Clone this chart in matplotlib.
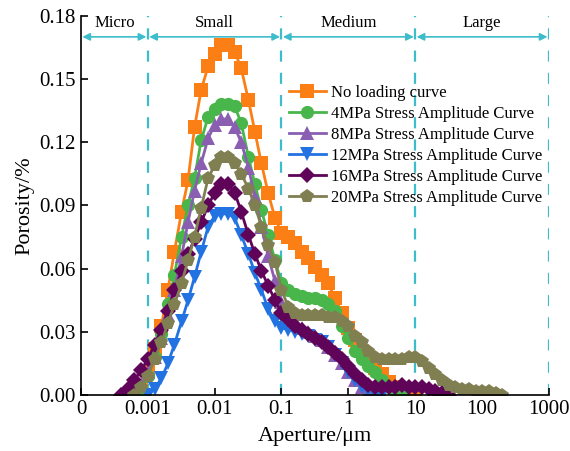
import numpy as np
import matplotlib.pyplot as plt
from matplotlib.ticker import FixedLocator, FixedFormatter

plt.rcParams['font.family'] = ['Liberation Serif', 'DejaVu Serif']
plt.rcParams['mathtext.fontset'] = 'stix'

### data ###

## aperture grid (um), roughly 0.1 decade apart
aperture_um = [0.0004, 0.0005, 0.00063, 0.0008, 0.001, 0.00126, 0.0016, 0.002, 0.0025, 0.0032,
               0.004, 0.005, 0.0063, 0.008, 0.01, 0.0126, 0.016, 0.02, 0.025, 0.032,
               0.04, 0.05, 0.063, 0.08, 0.1, 0.126, 0.16, 0.2, 0.25, 0.32,
               0.4, 0.5, 0.63, 0.8, 1, 1.26, 1.6, 2, 2.5, 3.2,
               4, 5, 6.3, 8, 10, 12.6, 16, 20, 25, 32,
               40, 50, 63, 80, 100, 126, 160, 200]

nan = np.nan
no_load = [nan, nan, 0.000, 0.004, 0.011, 0.022, 0.033, 0.050, 0.068, 0.087,
           0.102, 0.127, 0.145, 0.156, 0.162, 0.166, 0.166, 0.163, 0.155, 0.140,
           0.125, 0.110, 0.096, 0.084, 0.077, 0.075, 0.072, 0.068, 0.065, 0.061,
           0.057, 0.053, 0.046, 0.039, 0.032, 0.026, 0.021, 0.017, 0.013, 0.010,
           0.006, 0.004, 0.002, 0.001, 0.000, nan, nan, nan, nan, nan,
           nan, nan, nan, nan, nan, nan, nan, nan]
mpa4 = [nan, nan, 0.000, 0.003, 0.009, 0.018, 0.029, 0.043, 0.057, 0.075,
        0.090, 0.103, 0.121, 0.132, 0.136, 0.138, 0.138, 0.137, 0.129, 0.113,
        0.100, 0.088, 0.076, 0.064, 0.053, 0.050, 0.048, 0.047, 0.046, 0.046,
        0.045, 0.043, 0.040, 0.033, 0.027, 0.021, 0.017, 0.014, 0.011, 0.007,
        0.004, 0.002, 0.000, nan, nan, nan, nan, nan, nan, nan,
        nan, nan, nan, nan, nan, nan, nan, nan]
mpa8 = [nan, 0.000, 0.002, 0.005, 0.011, 0.018, 0.027, 0.038, 0.050, 0.066,
        0.082, 0.097, 0.110, 0.122, 0.128, 0.131, 0.131, 0.127, 0.120, 0.108,
        0.094, 0.080, 0.066, 0.054, 0.044, 0.038, 0.035, 0.032, 0.030, 0.028,
        0.026, 0.023, 0.019, 0.015, 0.011, 0.007, 0.004, 0.002, 0.001, 0.000,
        nan, nan, nan, nan, nan, nan, nan, nan, nan, nan,
        nan, nan, nan, nan, nan, nan, nan, nan]
mpa12 = [nan, nan, nan, nan, 0.000, 0.003, 0.008, 0.015, 0.024, 0.035,
         0.045, 0.056, 0.068, 0.080, 0.085, 0.086, 0.086, 0.084, 0.076, 0.067,
         0.058, 0.050, 0.041, 0.035, 0.032, 0.031, 0.030, 0.029, 0.028, 0.026,
         0.025, 0.023, 0.019, 0.015, 0.011, 0.007, 0.004, 0.002, 0.001, 0.000,
         nan, nan, nan, nan, nan, nan, nan, nan, nan, nan,
         nan, nan, nan, nan, nan, nan, nan, nan]
mpa16 = [0.000, 0.003, 0.007, 0.012, 0.017, 0.024, 0.031, 0.040, 0.050, 0.059,
         0.067, 0.074, 0.082, 0.090, 0.096, 0.100, 0.100, 0.096, 0.087, 0.076,
         0.067, 0.059, 0.052, 0.045, 0.039, 0.036, 0.033, 0.031, 0.029, 0.027,
         0.025, 0.023, 0.020, 0.017, 0.014, 0.010, 0.007, 0.005, 0.004, 0.004,
         0.004, 0.004, 0.005, 0.004, 0.004, 0.004, 0.003, 0.002, 0.001, 0.000,
         nan, nan, nan, nan, nan, nan, nan, nan]
mpa20 = [nan, nan, 0.000, 0.004, 0.009, 0.017, 0.025, 0.034, 0.043, 0.053,
         0.064, 0.075, 0.089, 0.103, 0.109, 0.113, 0.113, 0.110, 0.105, 0.098,
         0.090, 0.080, 0.071, 0.063, 0.050, 0.042, 0.039, 0.038, 0.038, 0.038,
         0.038, 0.037, 0.037, 0.035, 0.033, 0.028, 0.025, 0.021, 0.018, 0.017,
         0.017, 0.017, 0.017, 0.018, 0.018, 0.016, 0.013, 0.010, 0.007, 0.005,
         0.004, 0.003, 0.003, 0.002, 0.002, 0.002, 0.001, 0.000]

labels = ['No loading curve', '4MPa Stress Amplitude Curve', '8MPa Stress Amplitude Curve',
          '12MPa Stress Amplitude Curve', '16MPa Stress Amplitude Curve', '20MPa Stress Amplitude Curve']
series = [no_load, mpa4, mpa8, mpa12, mpa16, mpa20]
colors = ['#fb7f14', '#48b64a', '#8a5fb2', '#2272e2', '#5f0458', '#807f52']
markers = ['s', 'o', '^', 'v', 'D', 'p']
msizes = [9.5, 9.5, 10, 10, 8, 10]

## pore size classes (um)
class_names = ['Micro', 'Small', 'Medium', 'Large']
class_bounds = [0.0001, 0.001, 0.1, 10, 1000]

xtick_pos = [0.0001, 0.001, 0.01, 0.1, 1, 10, 100, 1000]
xtick_lab = ['0', '0.001', '0.01', '0.1', '1', '10', '100', '1000']

### plot ###
fig = plt.figure(figsize=(5.7, 4.51), dpi=100)
ax = fig.add_axes([0.142, 0.124, 0.821, 0.841])

x = np.array(aperture_um)
for ys, lab, c, m, ms in zip(series, labels, colors, markers, msizes):
    ax.plot(x, ys, color=c, marker=m, markersize=ms, markeredgewidth=0,
            linewidth=2, label=lab)

## class boundaries and arrows
for b in class_bounds[1:]:
    ax.axvline(b, color='#3dbccb', linestyle=(0, (5, 5)), linewidth=1.6, zorder=0)
for i, name in enumerate(class_names):
    lo, hi = class_bounds[i], class_bounds[i + 1]
    ax.annotate('', xy=(lo * 1.05, 0.170), xytext=(hi / 1.05, 0.170),
                arrowprops=dict(arrowstyle='<|-|>', color='#3dbccb', lw=1.2,
                                mutation_scale=11, shrinkA=0, shrinkB=0))
    ax.text(np.sqrt(lo * hi), 0.1765, name, ha='center', va='center', fontsize=12)

ax.set_xscale('log')
ax.set_xlim(0.0001, 1000)
ax.set_ylim(0, 0.18)
ax.xaxis.set_major_locator(FixedLocator(xtick_pos))
ax.xaxis.set_major_formatter(FixedFormatter(xtick_lab))
ax.xaxis.set_minor_locator(FixedLocator([]))
ax.set_yticks([0, 0.03, 0.06, 0.09, 0.12, 0.15, 0.18])
ax.set_yticklabels(['0.00', '0.03', '0.06', '0.09', '0.12', '0.15', '0.18'])
ax.tick_params(direction='in', labelsize=15, length=5, width=1.2)
ax.spines['top'].set_visible(False)
ax.spines['right'].set_visible(False)
ax.spines['left'].set_linewidth(1.2)
ax.spines['bottom'].set_linewidth(1.2)

ax.set_xlabel('Aperture/μm', fontsize=16, labelpad=6)
ax.set_ylabel('Porosity/%', fontsize=16, labelpad=4)

ax.legend(loc='upper left', bbox_to_anchor=(0.43, 0.835), frameon=False, fontsize=12,
          handlelength=2.2, handletextpad=0.3, labelspacing=0.3, borderaxespad=0)

fig.savefig('out.png', dpi=100)
